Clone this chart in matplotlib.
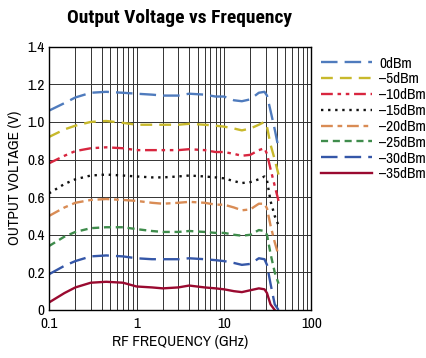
import matplotlib
matplotlib.use("Agg")
import matplotlib.pyplot as plt
from matplotlib.ticker import FixedLocator, LogLocator, NullFormatter

plt.rcParams["font.family"] = ["Archivo Narrow", "Roboto Condensed", "PT Sans Narrow",
                               "Barlow Semi Condensed", "DejaVu Sans"]

# frequency points (GHz) shared by all curves
freq = [0.1, 0.15, 0.2, 0.3, 0.45, 0.7, 1, 1.5, 2, 3, 4, 6, 8, 10, 13, 16,
        20, 25, 29, 31, 34, 38, 42]

v_0 = [1.06, 1.10, 1.13, 1.155, 1.16, 1.155, 1.15, 1.145, 1.14, 1.14, 1.15, 1.145,
       1.135, 1.135, 1.115, 1.11, 1.12, 1.155, 1.16, 1.14, 1.06, 0.96, 0.86]
v_5 = [0.92, 0.96, 0.98, 1.0, 1.005, 0.995, 0.985, 0.985, 0.985, 0.985, 0.99, 0.985,
       0.98, 0.975, 0.965, 0.955, 0.965, 0.985, 1.0, 0.975, 0.88, 0.80, 0.72]
v_10 = [0.78, 0.82, 0.845, 0.86, 0.865, 0.86, 0.85, 0.85, 0.85, 0.85, 0.855, 0.85,
        0.84, 0.84, 0.83, 0.82, 0.825, 0.85, 0.86, 0.83, 0.75, 0.66, 0.58]
v_15 = [0.62, 0.67, 0.695, 0.715, 0.72, 0.715, 0.71, 0.705, 0.705, 0.71, 0.715, 0.71,
        0.705, 0.70, 0.685, 0.675, 0.68, 0.695, 0.71, 0.69, 0.58, 0.50, 0.45]
v_20 = [0.50, 0.545, 0.57, 0.585, 0.59, 0.585, 0.58, 0.57, 0.565, 0.57, 0.575, 0.57,
        0.56, 0.56, 0.545, 0.53, 0.535, 0.565, 0.565, 0.54, 0.45, 0.36, 0.29]
v_25 = [0.34, 0.39, 0.415, 0.435, 0.44, 0.44, 0.43, 0.42, 0.415, 0.415, 0.42, 0.415,
        0.41, 0.41, 0.40, 0.395, 0.40, 0.425, 0.42, 0.40, 0.30, 0.20, 0.14]
v_30 = [0.19, 0.235, 0.26, 0.285, 0.29, 0.285, 0.275, 0.27, 0.27, 0.27, 0.275, 0.27,
        0.265, 0.26, 0.25, 0.24, 0.245, 0.275, 0.27, 0.24, 0.14, 0.03, 0.0]
v_35 = [0.04, 0.09, 0.12, 0.145, 0.15, 0.145, 0.125, 0.12, 0.115, 0.12, 0.13, 0.12,
        0.115, 0.11, 0.10, 0.095, 0.105, 0.115, 0.11, 0.09, 0.03, 0.0, None]

labels = ["0dBm", "\u20135dBm", "\u201310dBm", "\u201315dBm", "\u201320dBm",
          "\u201325dBm", "\u201330dBm", "\u201335dBm"]
series = [v_0, v_5, v_10, v_15, v_20, v_25, v_30, v_35]

colors = ["#4f7bbd", "#c8b92c", "#d8263f", "#111111", "#d98c55", "#3f8c4c",
          "#3557a8", "#9a0a30"]
styles = [(0, (7, 3)), (0, (5, 3)), (0, (5, 2, 1.5, 2, 1.5, 2)), (0, (1, 2)),
          (0, (5, 2, 2, 2)), (0, (3, 2)), (0, (7, 3)), "-"]

fig = plt.figure(figsize=(4.27, 3.58), dpi=100)
ax = fig.add_axes([0.1148, 0.1341, 0.6147, 0.7355])

for vals, lab, c, ls in zip(series, labels, colors, styles):
    pts = [(f, v) for f, v in zip(freq, vals) if v is not None]
    ax.plot([p[0] for p in pts], [p[1] for p in pts], color=c, linestyle=ls,
            linewidth=1.7, label=lab)

ax.set_xscale("log")
ax.set_xlim(0.1, 100)
ax.set_ylim(0, 1.4)
ax.xaxis.set_major_locator(FixedLocator([0.1, 1, 10, 100]))
ax.set_xticklabels(["0.1", "1", "10", "100"])
ax.xaxis.set_minor_locator(LogLocator(base=10, subs=range(2, 10)))
ax.xaxis.set_minor_formatter(NullFormatter())
ax.set_yticks([0, 0.2, 0.4, 0.6, 0.8, 1.0, 1.2, 1.4])
ax.set_yticklabels(["0", "0.2", "0.4", "0.6", "0.8", "1.0", "1.2", "1.4"])
ax.grid(True, which="both", axis="x", color="#333333", linewidth=0.7)
ax.grid(True, which="major", axis="y", color="#333333", linewidth=0.7)
ax.tick_params(which="both", length=0, labelsize=11, pad=3)
ax.tick_params(axis="x", pad=5)
for s in ax.spines.values():
    s.set_color("black")
    s.set_linewidth(1.0)

ax.set_xlabel("RF FREQUENCY (GHz)", fontsize=11, labelpad=3)
ax.set_ylabel("OUTPUT VOLTAGE (V)", fontsize=11, labelpad=4)
fig.text(0.42, 0.95, "Output Voltage vs Frequency", ha="center", va="center",
         fontsize=14, fontweight="bold",
         family=["Roboto Condensed", "Barlow Condensed", "Archivo Narrow", "DejaVu Sans"])

fig.legend(loc="upper left", bbox_to_anchor=(0.752, 0.842), frameon=False,
           fontsize=11, handlelength=3.3, handletextpad=0.5, labelspacing=0.12,
           borderaxespad=0, borderpad=0)

fig.savefig("out.png", dpi=100)
